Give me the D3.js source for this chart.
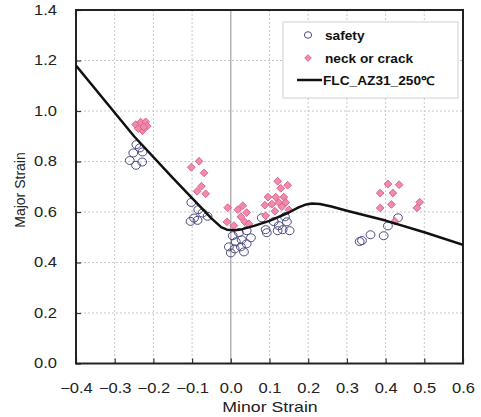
<!DOCTYPE html>
<html><head><meta charset="utf-8">
<script src="https://cdn.jsdelivr.net/npm/d3@7"></script>
<style>
html,body{margin:0;padding:0;background:#fff;}
svg{display:block;font-family:"Liberation Sans",Arial,sans-serif;}
</style></head>
<body><svg id="c" width="481" height="417"></svg>
<script>
// ---- data ----
const xTicks = [-0.4,-0.3,-0.2,-0.1,0.0,0.1,0.2,0.3,0.4,0.5,0.6];
const yTicks = [0.0,0.2,0.4,0.6,0.8,1.0,1.2,1.4];

const safetyX = [-0.244,-0.252,-0.228,-0.261,-0.245,-0.229,-0.235,
  -0.102,-0.084,-0.073,-0.095,-0.086,-0.060,-0.104,
  0.005,0.021,0.041,0.052,0.013,0.028,0.041,-0.005,0.010,0.026,0.000,0.034,
  0.080,0.090,0.093,0.111,0.124,0.140,0.145,0.134,0.152,0.121,
  0.333,0.339,0.361,0.395,0.406,0.432];
const safetyY = [0.867,0.834,0.838,0.804,0.785,0.798,0.854,
  0.638,0.609,0.596,0.576,0.567,0.583,0.563,
  0.506,0.518,0.526,0.498,0.482,0.490,0.474,0.462,0.454,0.462,0.438,0.442,
  0.577,0.530,0.518,0.562,0.546,0.581,0.561,0.530,0.526,0.526,
  0.483,0.487,0.510,0.506,0.545,0.577];

const crackX = [-0.246,-0.233,-0.220,-0.216,-0.228,-0.239,-0.225,
  -0.102,-0.082,-0.069,-0.076,-0.087,-0.065,
  -0.008,0.018,0.031,0.041,0.026,-0.010,0.008,0.036,0.047,
  0.121,0.147,0.129,0.096,0.116,0.137,0.088,0.106,0.124,0.142,0.114,0.132,0.090,0.150,
  0.406,0.435,0.386,0.419,0.386,0.415,0.488,0.481,0.424];
const crackY = [0.946,0.956,0.957,0.940,0.922,0.930,0.937,
  0.777,0.801,0.755,0.702,0.682,0.672,
  0.617,0.609,0.625,0.598,0.581,0.561,0.546,0.561,0.553,
  0.722,0.706,0.694,0.659,0.659,0.659,0.627,0.631,0.638,0.638,0.603,0.621,0.585,0.609,
  0.711,0.708,0.675,0.675,0.616,0.630,0.639,0.616,0.563];

const flcX = [-0.4,-0.25,-0.15,-0.1,-0.05,-0.025,-0.01,0.01,0.03,0.06,0.1,0.15,0.175,0.195,0.21,0.23,0.26,0.3,0.4,0.5,0.6];
const flcY = [1.18,0.90,0.735,0.655,0.575,0.54,0.53,0.528,0.532,0.545,0.565,0.598,0.618,0.63,0.634,0.632,0.622,0.605,0.566,0.52,0.47];

const seriesNames = ["safety","neck or crack","FLC_AZ31_250\u2103"];

// ---- layout ----
const SX = 1.18; // horizontal text stretch
const svg = d3.select("#c");
const L = 76, R = 463, T = 10, B = 363.5;
const x = d3.scaleLinear().domain([-0.4,0.6]).range([L,R]);
const y = d3.scaleLinear().domain([0,1.4]).range([B,T]);

// grid
const g = svg.append("g");
g.selectAll(".vg").data(xTicks.filter(d=>d>-0.4 && d<0.6 && d!==0)).enter().append("line")
  .attr("x1",d=>x(d)).attr("x2",d=>x(d)).attr("y1",T).attr("y2",B)
  .attr("stroke","#c8c8c8").attr("stroke-width",1).attr("stroke-dasharray","2,2");
g.selectAll(".hg").data(yTicks.filter(d=>d>0 && d<1.4)).enter().append("line")
  .attr("x1",L).attr("x2",R).attr("y1",d=>y(d)).attr("y2",d=>y(d))
  .attr("stroke","#c8c8c8").attr("stroke-width",1).attr("stroke-dasharray","2,2");
g.append("line").attr("x1",x(0)).attr("x2",x(0)).attr("y1",T).attr("y2",B)
  .attr("stroke","#a0a0a0").attr("stroke-width",1.2);

// axes
const xa = svg.append("g").attr("transform",`translate(0,${B})`)
  .call(d3.axisBottom(x).tickValues(xTicks).tickFormat(d3.format(".1f")).tickSizeInner(-5).tickSizeOuter(0).tickPadding(20));
const ya = svg.append("g").attr("transform",`translate(${L},0)`)
  .call(d3.axisLeft(y).tickValues(yTicks).tickFormat(d3.format(".1f")).tickSizeInner(-5).tickSizeOuter(0).tickPadding(19));
[xa,ya].forEach(a=>{
  a.select(".domain").remove();
  a.selectAll(".tick line").attr("stroke","#333").attr("stroke-width",1.2);
  a.selectAll(".tick text").attr("font-size",14).attr("fill","#222")
    .attr("font-family","'Liberation Sans',Arial,sans-serif");
});
xa.selectAll(".tick text").attr("transform",`scale(${SX},1)`);
ya.selectAll(".tick text").attr("x",-19/SX).attr("transform",`scale(${SX},1)`);

// frame
svg.append("rect").attr("x",L).attr("y",T).attr("width",R-L).attr("height",B-T)
  .attr("fill","none").attr("stroke","#222").attr("stroke-width",2);

// axis titles
svg.append("text").attr("transform",`translate(270,411.5) scale(${SX},1)`)
  .attr("text-anchor","middle").attr("font-size",15).attr("fill","#222").text("Minor Strain");
svg.append("text").attr("transform",`translate(25,190) rotate(-90)`)
  .attr("text-anchor","middle").attr("font-size",14).attr("fill","#222").text("Major Strain");

// clip
svg.append("clipPath").attr("id","pc").append("rect").attr("x",L).attr("y",T).attr("width",R-L).attr("height",B-T);
const plot = svg.append("g").attr("clip-path","url(#pc)");

const circColor = "#4a4a82";
const diaFill = "#f28aab", diaStroke = "#d4587f";
const diamond = d3.symbol().type(d3.symbolSquare).size(30);

// safety circles
const safety = safetyX.map((v,i)=>({x:v,y:safetyY[i]}));
plot.selectAll(".s").data(safety).enter().append("ellipse")
  .attr("cx",d=>x(d.x)).attr("cy",d=>y(d.y)).attr("rx",4.4).attr("ry",4)
  .attr("fill","none").attr("stroke",circColor).attr("stroke-width",1);

// crack diamonds
const crack = crackX.map((v,i)=>({x:v,y:crackY[i]}));
plot.selectAll(".d").data(crack).enter().append("path")
  .attr("d",diamond).attr("transform",d=>`translate(${x(d.x)},${y(d.y)}) rotate(45)`)
  .attr("fill",diaFill).attr("stroke",diaStroke).attr("stroke-width",0.8);

// FLC line
const flc = flcX.map((v,i)=>({x:v,y:flcY[i]}));
plot.append("path").datum(flc)
  .attr("d",d3.line().x(d=>x(d.x)).y(d=>y(d.y)).curve(d3.curveLinear))
  .attr("fill","none").attr("stroke","#111").attr("stroke-width",2.5).attr("stroke-linejoin","round");

// legend
const lg = svg.append("g");
lg.append("rect").attr("x",283).attr("y",22).attr("width",175).attr("height",76)
  .attr("fill","#fff").attr("stroke","#cfcfcf").attr("stroke-width",1);
lg.append("ellipse").attr("cx",308).attr("cy",35).attr("rx",3.6).attr("ry",3.3)
  .attr("fill","none").attr("stroke",circColor).attr("stroke-width",1);
lg.append("path").attr("d",d3.symbol().type(d3.symbolSquare).size(22))
  .attr("transform","translate(308,58) rotate(45)")
  .attr("fill",diaFill).attr("stroke",diaStroke).attr("stroke-width",0.8);
lg.append("line").attr("x1",297).attr("x2",322).attr("y1",80).attr("y2",80)
  .attr("stroke","#111").attr("stroke-width",2.5);
const ly = [39.5,62.5,84.5], lx = [325,325,323];
seriesNames.forEach((n,i)=>{
  lg.append("text").attr("transform",`translate(${lx[i]},${ly[i]}) scale(1.14,1)`)
    .attr("font-size",12).attr("font-weight","bold").attr("fill","#111").text(n);
});
</script></body></html>
